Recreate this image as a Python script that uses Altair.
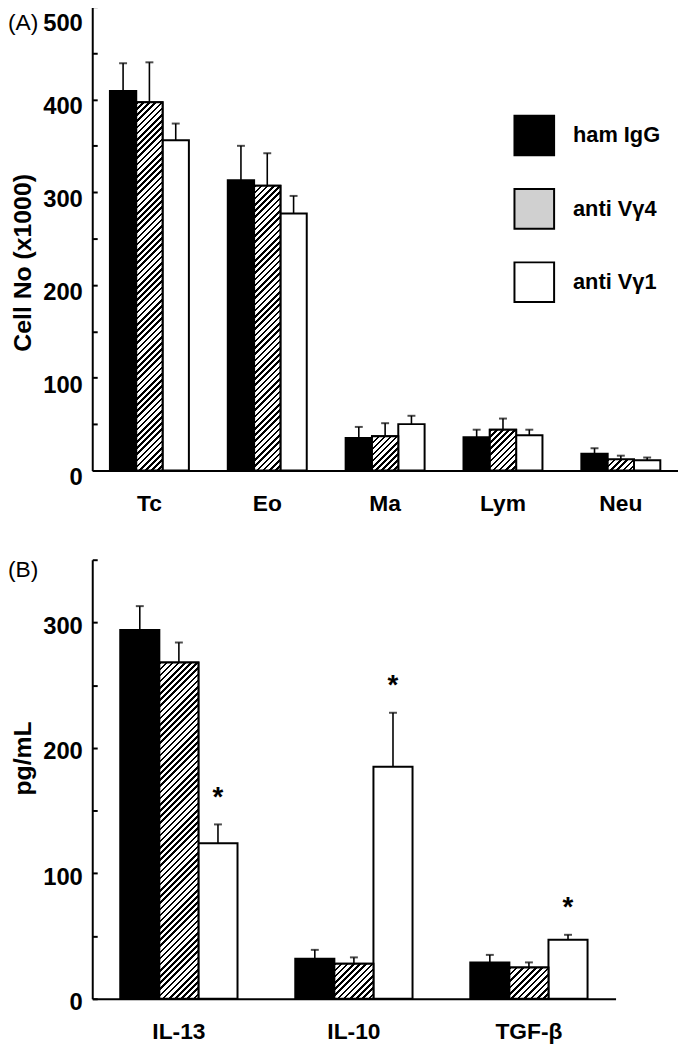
import math
import altair as alt
import pandas as pd

FONT = "Liberation Sans"

groups = ["ham IgG", "anti Vγ4", "anti Vγ1"]
group_fill = ["black", "#d0d0d0", "white"]

# Panel A: BAL cell counts (x1000)
cells = ["Tc", "Eo", "Ma", "Lym", "Neu"]
cell_ham = [409, 313, 35, 36, 18]
cell_v4 = [397, 307, 37, 44, 12]
cell_v1 = [356, 277, 50, 38, 11]
cell_ham_err = [30, 37, 12, 8, 6]
cell_v4_err = [43, 35, 14, 12, 4]
cell_v1_err = [18, 19, 9, 6, 3]
cell_v1_sig = [False, False, False, False, False]

# Panel B: cytokines (pg/mL)
cytokines = ["IL-13", "IL-10", "TGF-β"]
cyto_ham = [294, 32, 29]
cyto_v4 = [268, 28, 25]
cyto_v1 = [124, 185, 47]
cyto_ham_err = [19, 7, 6]
cyto_v4_err = [16, 5, 4]
cyto_v1_err = [15, 43, 4]
cyto_v1_sig = [True, True, True]

# layout (pixels, relative to the drawing origin)
CHART_W = 591
CHART_H = 1040
PAD_LEFT = 85


def long_table(cats, vals, errs, sig_v1):
    rows = []
    for gi, g in enumerate(groups):
        for ci, c in enumerate(cats):
            v = vals[gi][ci]
            e = errs[gi][ci]
            rows.append({"cat": c, "group": g, "value": v, "upper": v + e,
                         "sig": bool(sig_v1[ci]) if gi == 2 else False})
    return pd.DataFrame(rows)


dfA = long_table(cells, [cell_ham, cell_v4, cell_v1],
                 [cell_ham_err, cell_v4_err, cell_v1_err], cell_v1_sig)
dfB = long_table(cytokines, [cyto_ham, cyto_v4, cyto_v1],
                 [cyto_ham_err, cyto_v4_err, cyto_v1_err], cyto_v1_sig)


def hatch_fill(w, h, period=4.4, frac=0.42):
    """Diagonal '///' stripes as a hard-stop linear gradient in bbox units."""
    w = max(w, 1.0)
    h = max(h, 1.0)
    r = h / w
    k = (1 + r) / (1 + r * r)
    length = (w + h) / math.sqrt(2)
    n = max(1, int(round(length / period)))
    stops = []
    for i in range(n):
        a = round(i / n, 5)
        b = round((i + frac) / n, 5)
        c = round((i + 1) / n, 5)
        stops += [{"offset": a, "color": "black"},
                  {"offset": b, "color": "black"},
                  {"offset": b, "color": "white"},
                  {"offset": c, "color": "white"}]
    return {"gradient": "linear", "x1": 0, "y1": 0,
            "x2": round(k, 6), "y2": round(k * r, 6), "stops": stops}


def panel(df, cats, W, y_bottom, y_top, ymax, label_vals, tick_vals, ytitle,
          title_y, label_offset, panel_label, label_y, show_legend,
          pad_outer):
    pad_inner = 0.33
    step = W / (len(cats) - pad_inner + 2 * pad_outer)
    sub_w = step * (1 - pad_inner) / len(groups)
    H = y_bottom - y_top

    yscale = alt.Scale(domain=[0, ymax], nice=False, zero=True,
                       range=[y_bottom, y_top])
    x = alt.X("cat:N", sort=cats,
              scale=alt.Scale(domain=cats, paddingInner=pad_inner,
                              paddingOuter=pad_outer, range=[0, W]),
              axis=alt.Axis(title=None, orient="bottom",
                            offset=-(CHART_H - y_bottom), labelAngle=0,
                            labelFont=FONT, labelFontSize=23,
                            labelFontWeight="bold", labelColor="black",
                            labelPadding=22, labelBaseline="top",
                            ticks=False, tickSize=0, domainColor="black",
                            domainWidth=2, grid=False))
    xo = alt.XOffset("group:N", sort=groups,
                     scale=alt.Scale(domain=groups, paddingInner=0,
                                     paddingOuter=0))
    y_main = alt.Y("value:Q", scale=yscale,
                   axis=alt.Axis(orient="left", values=label_vals,
                                 title=ytitle, titleFont=FONT,
                                 titleFontSize=25, titleFontWeight="bold",
                                 titleColor="black", titleAngle=-90,
                                 titleX=-70, titleY=title_y,
                                 titleAlign="center", titleBaseline="middle",
                                 labelFont=FONT, labelFontSize=24,
                                 labelFontWeight="bold", labelColor="black",
                                 labelPadding=10, labelOffset=label_offset,
                                 ticks=False, tickSize=0, domainColor="black",
                                 domainWidth=2, grid=False))
    y_plain = alt.Y("value:Q", scale=yscale, axis=None)
    y_upper = alt.Y("upper:Q", scale=yscale, axis=None)

    if show_legend:
        legend = alt.Legend(title=None, orient="none", legendX=425,
                            legendY=103, symbolType="square",
                            symbolSize=1600, symbolStrokeColor="black",
                            symbolStrokeWidth=2, symbolOpacity=1,
                            labelFont=FONT, labelFontSize=22,
                            labelFontWeight="bold", labelColor="black",
                            labelOffset=18, rowPadding=26, padding=0)
    else:
        legend = None

    base = alt.Chart(df)
    bars = base.mark_bar(stroke="black", strokeWidth=2, opacity=1).encode(
        x=x, xOffset=xo, y=y_main,
        fill=alt.Fill("group:N",
                      scale=alt.Scale(domain=groups, range=group_fill),
                      legend=legend))

    hatch_layers = []
    for _, row in df[df["group"] == groups[1]].iterrows():
        h_px = row["value"] / ymax * H
        grad = hatch_fill(sub_w, h_px)
        hatch_layers.append(
            base.transform_filter(
                (alt.datum.cat == row["cat"]) & (alt.datum.group == groups[1])
            ).mark_bar(fill=grad, stroke="black", strokeWidth=2).encode(
                x=x, xOffset=xo, y=y_plain))

    err = base.mark_rule(color="black", strokeWidth=1.6).encode(
        x=x, xOffset=xo, y=y_plain, y2="upper:Q")
    cap = base.mark_tick(color="black", thickness=2, size=8).encode(
        x=x, xOffset=xo, y=y_upper)
    stars = base.transform_filter(alt.datum.sig).mark_text(
        text="*", font=FONT, fontSize=28, fontWeight="bold", color="black",
        dy=-19, baseline="alphabetic", align="center").encode(
        x=x, xOffset=xo, y=y_upper)

    inner_ticks = base.mark_point(opacity=0).encode(
        y=alt.Y("value:Q", scale=yscale,
                axis=alt.Axis(orient="right", offset=-CHART_W,
                              values=tick_vals, labels=False, domain=False,
                              ticks=True, tickSize=5, tickWidth=2,
                              tickColor="black", title=None, grid=False)))

    plabel = alt.Chart(pd.DataFrame({"label": [panel_label]})).mark_text(
        font=FONT, fontSize=23, fontWeight="normal", color="black",
        align="left", baseline="alphabetic").encode(
        text="label:N", x=alt.value(-85), y=alt.value(label_y))

    layers = [bars] + hatch_layers + [err, cap, stars, inner_ticks, plabel]
    return alt.layer(*layers).resolve_axis(y="independent")


labA_offset = {"condition": {"test": "datum.value === 500", "value": 17},
               "value": 7.5}

panelA = panel(dfA, cells, 591, 462, -6, 500, [0, 100, 200, 300, 400, 500],
               list(range(0, 501, 50)), "Cell No (x1000)", 252, labA_offset,
               "(A)", 18, True, 0.15)
panelB = panel(dfB, cytokines, 528, 995, 552, 350, [0, 100, 200, 300],
               list(range(0, 351, 50)), "pg/mL", 752, 4, "(B)", 569, False,
               0.16)

chart = alt.layer(panelA, panelB).resolve_scale(
    x="independent", y="independent", xOffset="independent",
    fill="independent").resolve_axis(
    x="independent", y="independent").resolve_legend(
    fill="independent").properties(
    width=CHART_W, height=CHART_H,
    autosize=alt.AutoSizeParams(type="none"),
    padding={"top": 0, "left": PAD_LEFT, "right": 0, "bottom": 0}
).configure(font=FONT).configure_view(strokeWidth=0, strokeOpacity=0)

chart.save("out.html", embed_options={"renderer": "svg", "actions": False})
